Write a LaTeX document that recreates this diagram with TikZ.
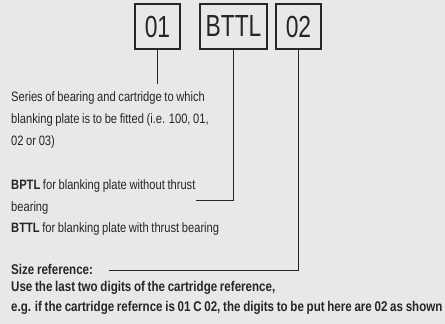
\documentclass[tikz,border=0pt]{standalone}
\usepackage{fontspec}
\setmainfont{Liberation Sans}
\newfontfamily\narrowfont[FakeStretch=0.82,WordSpace=0.85]{Liberation Sans}
\newfontfamily\boxfont[FakeStretch=0.75]{Liberation Sans}
\usetikzlibrary{positioning}

\definecolor{panelgrey}{HTML}{E7E8EA}
\definecolor{inkgrey}{HTML}{262626}

\begin{document}
\begin{tikzpicture}[
    x=1pt, y=-1pt,
    code box/.style={rectangle,draw=inkgrey,line width=1.4pt,minimum height=45pt,inner sep=0pt,
        text=inkgrey,font=\boxfont\fontsize{30.5}{30.5}\selectfont},
    note/.style={anchor=north west,align=left,inner sep=0pt,text=inkgrey,
        font=\narrowfont\fontsize{13.6}{22.3}\selectfont},
    bold note/.style={note,font=\narrowfont\bfseries\fontsize{14.1}{20}\selectfont},
    leader/.style={draw=inkgrey,line width=1.4pt}
]

% Background
\fill[panelgrey] (0,0) rectangle (445,324);

% Code boxes
\node[code box, minimum width=45pt] (series box) at (157.5,26.5) {01};
\node[code box, minimum width=67pt] (type box) at (233.5,26.5) {BTTL};
\node[code box, minimum width=45pt] (size box) at (298.5,26.5) {02};

% Descriptions
\node[note] (series note) at (11,91) {Series of bearing and cartridge to which\\blanking plate is to be fitted (i.e. 100, 01,\\02 or 03)};
\node[note] (bptl note) at (11,179) {\textbf{BPTL} for blanking plate without thrust\\bearing};
\node[note] (bttl note) at (11,222) {\textbf{BTTL} for blanking plate with thrust bearing};
\node[bold note] (size note) at (11,264) {Size reference:};
\node[bold note] (rule note) at (11,281) {Use the last two digits of the cartridge reference,\\e.g. if the cartridge refernce is 01 C 02, the digits to be put here are 02 as shown};

% Leaders
\draw[leader] (type box.south) |- ([yshift=-4pt]bptl note.east);
\draw[leader, shorten >=7pt] (series box.south) -- (series box.south |- series note.north);
\draw[leader] (size box.south) |- ([xshift=16pt,yshift=-1pt]size note.east);

\end{tikzpicture}
\end{document}
